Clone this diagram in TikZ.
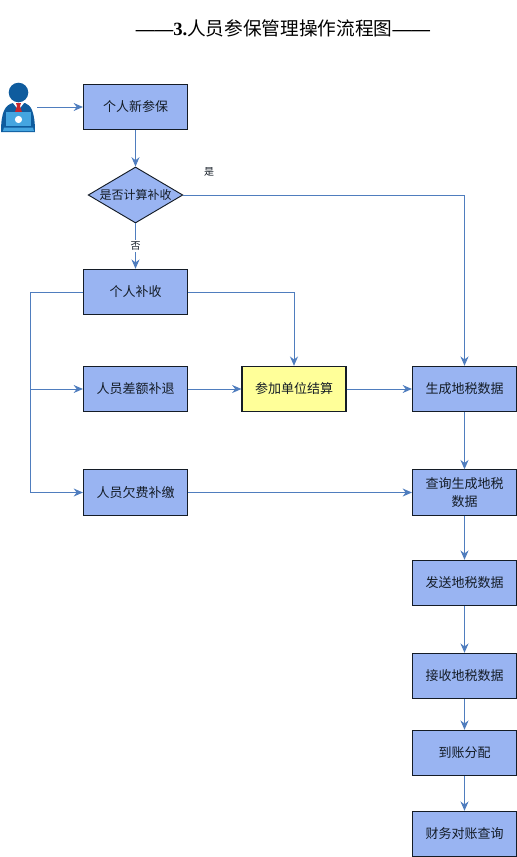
\documentclass[tikz,border=0pt]{standalone}
\usepackage{fontspec}
\setmainfont{Liberation Serif}
\newfontfamily\cjk{Noto Sans CJK SC}
\usetikzlibrary{arrows.meta,calc,positioning,shapes.geometric}
\definecolor{FlowBlue}{HTML}{99B4F2}
\definecolor{FlowYellow}{HTML}{FFFF99}
\definecolor{FlowLine}{HTML}{4F7DBE}
\definecolor{FlowInk}{HTML}{141C26}
\definecolor{UserBlue}{HTML}{0F5C9E}
\definecolor{UserSky}{HTML}{45A5E0}
\definecolor{UserRed}{HTML}{C8262C}
\tikzset{
  every node/.style={font=\cjk\fontsize{9.75pt}{13.5pt}\selectfont, text=FlowInk},
  flowbox/.style={draw=FlowInk, line width=0.8pt, fill=FlowBlue, minimum width=78pt, minimum height=34pt, inner sep=0pt, align=center},
  settlebox/.style={flowbox, fill=FlowYellow},
  choice/.style={diamond, draw=FlowInk, line width=0.7pt, fill=FlowBlue, minimum width=71pt, minimum height=42pt, inner sep=0pt},
  link/.style={-{Stealth[length=7pt,width=6pt]}, draw=FlowLine, line width=0.75pt},
  branchnote/.style={font=\cjk\fontsize{7.5pt}{9pt}\selectfont, inner sep=1pt},
}
\begin{document}
\begin{tikzpicture}[x=0.75pt,y=-0.75pt]
  \useasboundingbox (0,0) rectangle (517,857);
  % Title
  \node[font=\fontsize{14pt}{16pt}\selectfont, text=black, inner sep=0pt] (title) at (283,28) {\textbf{——3.}{\cjk 人员参保管理操作流程图}\textbf{——}};
  % Left column
  \node[flowbox] (newjoin) at (135.5,107) {个人新参保};
  \node[choice] (calc) at (135.5,195) {\makebox[0pt]{\fontsize{9pt}{11pt}\selectfont 是否计算补收}};
  \node[flowbox] (back) at (135.5,292) {个人补收};
  \node[flowbox] (diff) at (135.5,389) {人员差额补退};
  \node[flowbox] (arrears) at (135.5,492.5) {人员欠费补缴};
  % Middle
  \node[settlebox] (settle) at (294,389) {参加单位结算};
  % Right column
  \node[flowbox] (gen) at (464.5,389) {生成地税数据};
  \node[flowbox] (query) at (464.5,492.5) {查询生成地税\\数据};
  \node[flowbox] (send) at (464.5,583) {发送地税数据};
  \node[flowbox] (recv) at (464.5,676) {接收地税数据};
  \node[flowbox] (alloc) at (464.5,753) {到账分配};
  \node[flowbox] (check) at (464.5,834) {财务对账查询};
  % User icon
  \coordinate (user) at (37,107);
  \fill[UserBlue] (1,132) .. controls (1,112) and (5,105) .. (13,103) -- (25,103) .. controls (31,105) and (35,112) .. (35,132) -- cycle;
  \fill[UserBlue] (18.5,92.5) circle (9.8);
  \fill[white] (13,103) -- (18.5,110) -- (24,103) -- cycle;
  \fill[UserRed] (16,103) -- (21,103) -- (20,106) -- (22,112) -- (15,112) -- (17,106) -- cycle;
  \fill[UserSky] (6,112) -- (31,112) -- (31,126) -- (6,126) -- cycle;
  \fill[UserSky] (4,127.5) -- (33,127.5) -- (34,131) -- (3,131) -- cycle;
  \fill[white] (18.5,119.5) circle (3.6);
  % Connectors
  \draw[link] (user) -- (newjoin);
  \draw[link] (newjoin) -- (calc);
  \draw[link] (calc) -- node[fill=white, branchnote] (nolabel) {否} (back);
  \draw[link] (calc) -| (gen);
  \node[branchnote] (yeslabel) at (209,172) {是};
  \draw[link] (back) -| (settle);
  \coordinate (bus) at (30,292);
  \draw[link] (back) -- (bus) |- (arrears);
  \draw[link] (diff -| bus) -- (diff);
  \draw[link] (diff) -- (settle);
  \draw[link] (settle) -- (gen);
  \draw[link] (gen) -- (query);
  \draw[link] (arrears) -- (query);
  \draw[link] (query) -- (send);
  \draw[link] (send) -- (recv);
  \draw[link] (recv) -- (alloc);
  \draw[link] (alloc) -- (check);
\end{tikzpicture}
\end{document}
